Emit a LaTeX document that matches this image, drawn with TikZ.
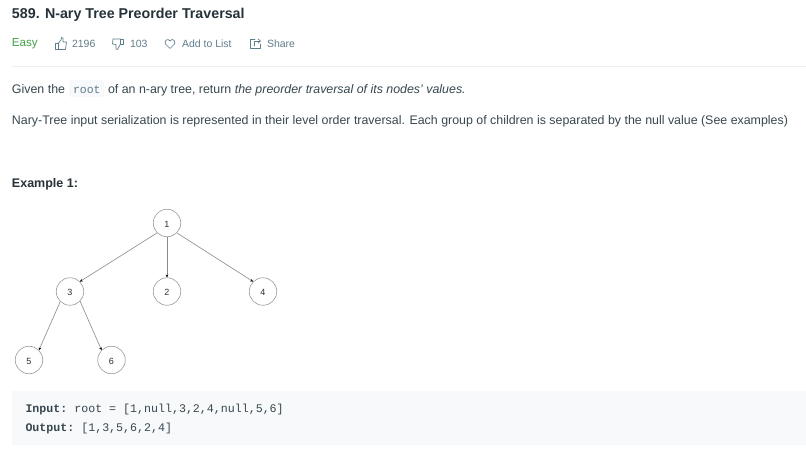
\documentclass[tikz,border=0pt]{standalone}
\usepackage{fontspec}
\setmainfont{Liberation Sans}
\setmonofont{Liberation Mono}
\usetikzlibrary{arrows.meta}
\definecolor{ink}{HTML}{263238}
\definecolor{body}{HTML}{37474F}
\definecolor{muted}{HTML}{607D8B}
\definecolor{easy}{HTML}{43A047}
\definecolor{rulec}{HTML}{ECEFF1}
\definecolor{codebg}{HTML}{F7F9FA}
\definecolor{edge}{HTML}{8A8A8A}
\definecolor{circ}{HTML}{9A9A9A}
\newcommand{\treelabel}[1]{\raisebox{-4.2pt}[0pt][0pt]{#1}}
\tikzset{
  txt/.style={anchor=base west,inner sep=0pt,outer sep=0pt,text=body,font=\fontsize{12.4}{14}\selectfont},
  meta/.style={txt,text=muted,font=\fontsize{10.5}{12}\selectfont},
  head/.style={txt,text=ink,font=\fontsize{12.5}{14}\selectfont\bfseries},
  codetxt/.style={txt,font=\fontsize{11.63}{13}\ttfamily\selectfont},
  treenode/.style={circle,draw=circ,line width=0.6pt,fill=white,minimum size=27.5pt,inner sep=0pt,text=ink,font=\fontsize{9}{10}\selectfont},
  treeedge/.style={draw=edge,line width=0.6pt,-{Stealth[length=2.8pt,width=2.8pt,black]}},
  icon/.style={draw=muted,line width=0.7pt,line join=round,line cap=round}
}
\begin{document}
\begin{tikzpicture}[x=1pt,y=-1pt]
\useasboundingbox (0,0) rectangle (806,452);
\fill[white] (0,0) rectangle (806,452);
\node[head,font=\fontsize{14.25}{16}\selectfont\bfseries] (title) at (12,19) {589. N-ary Tree Preorder Traversal};
\node[txt,text=easy,font=\fontsize{11.6}{14}\selectfont] (easy) at (12,47) {Easy};
% thumbs up
\draw[icon] (55.5,43) rectangle (58.5,49.5);
\draw[icon] (58.5,43) -- (61,40) -- (61.5,37.5) -- (63,38) -- (63,42) -- (66.5,42) -- (65.5,49.5) -- (58.5,49.5);
\node[meta] (likes) at (72,47.5) {2196};
% thumbs down
\draw[icon] (120.5,39) rectangle (123.5,44);
\draw[icon] (120.5,39) -- (113,39) -- (112.5,44) -- (116,44.5) -- (116,49) -- (117.5,49.5) -- (120.5,44);
\node[meta] (dislikes) at (130,47.5) {103};
% heart
\draw[icon] (170,48.5) -- (165.5,44) .. controls (163.5,41) and (168,37.5) .. (170,41) .. controls (172,37.5) and (176.5,41) .. (174.5,44) -- cycle;
\node[meta] (addlist) at (182,47.5) {Add to List};
% share
\draw[icon] (255,39.5) -- (250.5,39.5) -- (250.5,48.5) -- (260,48.5) -- (260,44);
\draw[icon] (254.5,46) -- (254.5,41) -- (260,41);
\draw[icon] (258,39) -- (260.5,41) -- (258,43);
\node[meta] (share) at (267,47.5) {Share};
\draw[rulec,line width=0.8pt] (12,66.5) -- (806,66.5);
% paragraph 1
\node[txt] (given) at (12,93) {Given the};
\fill[codebg,rounded corners=1.5pt] (69,80) rectangle (104,97);
\node[txt,text=muted,font=\fontsize{11.5}{13}\ttfamily\selectfont] (root) at (73,93) {root};
\node[txt] (rest) at (108,93) {of an n-ary tree, return \textit{the preorder traversal of its nodes' values.}};
\node[txt] (para) at (12,124) {Nary-Tree input serialization is represented in their level order traversal. Each group of children is separated by the null value (See examples)};
\node[head] (ex) at (12,187) {Example 1:};
% tree
\node[treenode] (n1) at (167,223) {\treelabel{1}};
\node[treenode] (n3) at (70,291.5) {\treelabel{3}};
\node[treenode] (n2) at (167,291.5) {\treelabel{2}};
\node[treenode] (n4) at (263,291.5) {\treelabel{4}};
\node[treenode] (n5) at (29,360) {\treelabel{5}};
\node[treenode] (n6) at (111.5,360) {\treelabel{6}};
\draw[treeedge] (n1.225) -- (n3.45);
\draw[treeedge] (n1.270) -- (n2.90);
\draw[treeedge] (n1.315) -- (n4.135);
\draw[treeedge] (n3.226) -- (n5.45);
\draw[treeedge] (n3.316) -- (n6.135);
% code block
\fill[codebg] (12,391) rectangle (806,445);
\node[codetxt] (inp) at (25.5,412) {\textbf{Input:} root = [1,null,3,2,4,null,5,6]};
\node[codetxt] (out) at (25.5,431) {\textbf{Output:} [1,3,5,6,2,4]};
\end{tikzpicture}
\end{document}
